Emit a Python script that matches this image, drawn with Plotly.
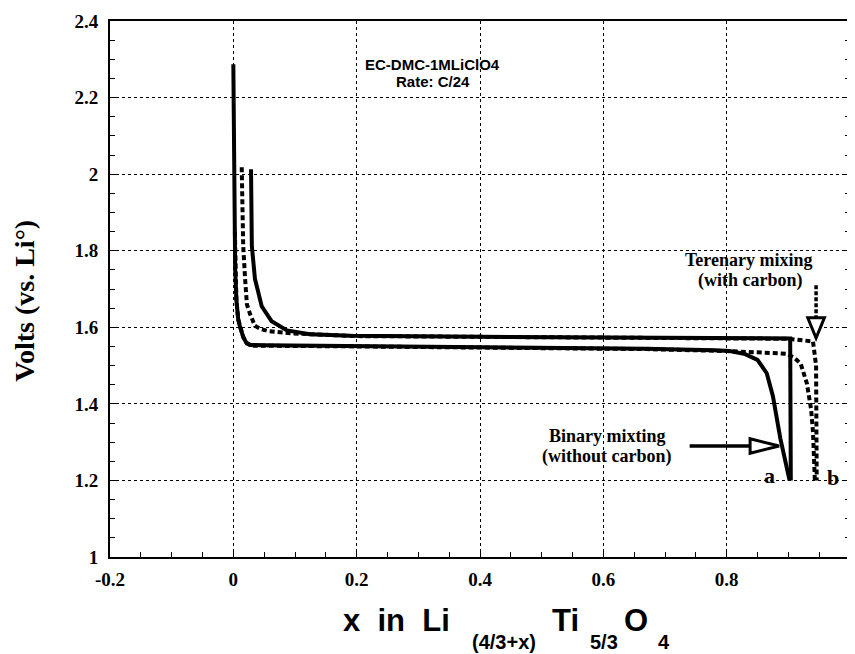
import plotly.graph_objects as go

# ---- data (x in Li(4/3+x)Ti5/3O4, volts vs Li) ----
# a: binary mixing (without carbon) - solid curves
a1_x = [0.000, 0.001, 0.002, 0.003, 0.005, 0.008, 0.011, 0.016, 0.021, 0.027, 0.05, 0.2, 0.43, 0.67, 0.78, 0.805,
        0.83, 0.85, 0.865, 0.875, 0.887, 0.902]
a1_v = [2.287, 2.05, 1.88, 1.75, 1.67, 1.62, 1.60, 1.575, 1.56, 1.554, 1.553, 1.551, 1.548, 1.544, 1.540, 1.538,
        1.530, 1.515, 1.48, 1.42, 1.31, 1.20]
a2_x = [0.0287, 0.029, 0.030, 0.035, 0.046, 0.062, 0.075, 0.087, 0.124, 0.189, 0.4, 0.6, 0.8, 0.903, 0.904]
a2_v = [2.013, 1.93, 1.813, 1.727, 1.655, 1.616, 1.603, 1.592, 1.582, 1.578, 1.575, 1.573, 1.572, 1.571, 1.20]
# b: ternary mixing (with carbon) - dashed curves
b1_x = [0.0025, 0.003, 0.005, 0.008, 0.011, 0.016, 0.022, 0.03, 0.2, 0.43, 0.67, 0.8, 0.87, 0.897, 0.91, 0.92,
        0.93, 0.937, 0.940, 0.943]
b1_v = [1.85, 1.75, 1.67, 1.62, 1.60, 1.575, 1.558, 1.552, 1.550, 1.547, 1.543, 1.538, 1.533, 1.531, 1.52, 1.505,
        1.454, 1.385, 1.326, 1.20]
b2_x = [0.0136, 0.015, 0.016, 0.019, 0.022, 0.027, 0.035, 0.045, 0.057, 0.095, 0.2, 0.5, 0.9, 0.94, 0.945, 0.946]
b2_v = [2.018, 1.898, 1.813, 1.728, 1.66, 1.635, 1.604, 1.595, 1.59, 1.584, 1.577, 1.574, 1.570, 1.563, 1.50, 1.20]

x_ticks = [-0.2, 0, 0.2, 0.4, 0.6, 0.8]
x_ticktext = ["-0.2", "0", "0.2", "0.4", "0.6", "0.8"]
y_ticks = [1, 1.2, 1.4, 1.6, 1.8, 2, 2.2, 2.4]
y_ticktext = ["1", "1.2", "1.4", "1.6", "1.8", "2", "2.2", "2.4"]

SERIF = "Liberation Serif, Times New Roman, serif"
SANS = "Liberation Sans, Arial, sans-serif"

fig = go.Figure()
line_w = 4
solid = dict(color="black", width=line_w)
dashed = dict(color="black", width=line_w, dash="5px,3px")
fig.add_trace(go.Scatter(x=a1_x, y=a1_v, mode="lines", line=solid, showlegend=False))
fig.add_trace(go.Scatter(x=a2_x, y=a2_v, mode="lines", line=solid, showlegend=False))
fig.add_trace(go.Scatter(x=b1_x, y=b1_v, mode="lines", line=dashed, showlegend=False))
fig.add_trace(go.Scatter(x=b2_x, y=b2_v, mode="lines", line=dashed, showlegend=False))

# arrows (decorations)
tern_x = 0.945
tern_y0, tern_y1, tern_tip = 1.71, 1.625, 1.572
fig.add_shape(type="line", x0=tern_x, x1=tern_x, y0=tern_y0, y1=tern_y1,
              line=dict(color="black", width=3.5, dash="4px,2px"))
fig.add_shape(type="path",
              path=f"M {tern_x-0.0135} {tern_y1} L {tern_x+0.0135} {tern_y1} L {tern_x} {tern_tip} Z",
              line=dict(color="black", width=3), fillcolor="white")
bin_y = 1.29
bin_x0, bin_x1, bin_tip = 0.740, 0.838, 0.885
fig.add_shape(type="line", x0=bin_x0, x1=bin_x1, y0=bin_y, y1=bin_y, line=dict(color="black", width=3.5))
fig.add_shape(type="path",
              path=f"M {bin_x1} {bin_y-0.019} L {bin_x1} {bin_y+0.019} L {bin_tip} {bin_y} Z",
              line=dict(color="black", width=3), fillcolor="white")


def txt(x, y, text, family, size, **kw):
    d = dict(x=x, y=y, text=text, showarrow=False, xanchor="center", yanchor="middle",
             font=dict(family=family, size=size, color="black"))
    d.update(kw)
    return d


ann = [
    txt(0.323, 2.287, "<b>EC-DMC-1MLiClO4</b>", SANS, 15),
    txt(0.323, 2.241, "<b>Rate: C/24</b>", SANS, 15),
    txt(0.836, 1.777, "<b>Terenary mixing</b>", SERIF, 18),
    txt(0.838, 1.722, "<b>(with carbon)</b>", SERIF, 18),
    txt(0.606, 1.315, "<b>Binary mixting</b>", SERIF, 18),
    txt(0.606, 1.262, "<b>(without carbon)</b>", SERIF, 18),
    txt(0.870, 1.213, "<b>a</b>", SERIF, 22),
    txt(0.972, 1.208, "<b>b</b>", SERIF, 22),
    txt(-0.115, 0.478, "<b>Volts (vs. Li°)</b>", SERIF, 28, xref="paper", yref="paper", textangle=-90),
]
xt_parts = [("<b>x&nbsp; in&nbsp; Li</b>", 0.387, 31, -0.119), ("<b>(4/3+x)</b>", 0.533, 20, -0.158),
            ("<b>Ti</b>", 0.615, 31, -0.119), ("<b>5/3</b>", 0.667, 20, -0.158),
            ("<b>O</b>", 0.711, 31, -0.119), ("<b>4</b>", 0.749, 20, -0.158)]
for t, px, sz, py in xt_parts:
    ann.append(txt(px, py, t, SANS, sz, xref="paper", yref="paper"))

fig.update_layout(
    width=847, height=646,
    margin=dict(l=102, r=5, t=3, b=97),
    paper_bgcolor="white", plot_bgcolor="white",
    annotations=ann,
    xaxis=dict(range=[-0.2, 1.0], tickvals=x_ticks, ticktext=x_ticktext,
               showgrid=True, gridcolor="black", gridwidth=1, griddash="dot",
               showline=True, linecolor="black", linewidth=2, mirror=True,
               ticks="inside", ticklen=8, tickwidth=1, tickcolor="black",
               minor=dict(dtick=0.05, tick0=0, ticks="inside", ticklen=5, tickwidth=1, tickcolor="black",
                          showgrid=False),
               zeroline=False, ticklabeloverflow="allow",
               tickfont=dict(family=SERIF, size=19, color="black", weight="bold"), ticklabelstandoff=4),
    yaxis=dict(range=[1.0, 2.4], tickvals=y_ticks, ticktext=y_ticktext,
               showgrid=True, gridcolor="black", gridwidth=1, griddash="dot",
               showline=True, linecolor="black", linewidth=2, mirror="allticks",
               ticks="inside", ticklen=8, tickwidth=1, tickcolor="black",
               minor=dict(dtick=0.05, tick0=1, ticks="inside", ticklen=5, tickwidth=1, tickcolor="black",
                          showgrid=False),
               zeroline=False, ticklabeloverflow="allow",
               tickfont=dict(family=SERIF, size=19, color="black", weight="bold"), ticklabelstandoff=6),
)
fig.write_html("out.html")
